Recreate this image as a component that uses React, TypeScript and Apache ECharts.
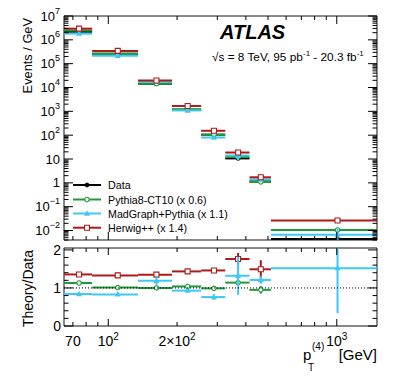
import React, { useEffect, useRef } from "react";
import * as echarts from "echarts";

const FONT = '"Liberation Sans", Arial, Helvetica, sans-serif';

const X_MIN = 64;
const X_MAX = 1500;
const Y_MIN = 0.004;
const Y_MAX = 1e7;
const R_MIN = 0;
const R_MAX = 2.05;

// bins of the 4th-jet pT (GeV)
const binLow = [64, 85, 135, 190, 255, 325, 415, 515];
const binHigh = [85, 135, 190, 255, 325, 415, 515, 1500];
const binCenter = [74.5, 110, 162.5, 222.5, 290, 370, 465, 1007.5];

// Events / GeV
const dataValues = [2.17e6, 2.58e5, 1.45e4, 1.17e3, 105, 10.6, 1.15, 0.0044];
const pythiaValues = [2.45e6, 2.61e5, 1.45e4, 1.22e3, 104, 12.1, 1.09, 0.0106];
const madgraphValues = [1.82e6, 2.14e5, 1.73e4, 1.09e3, 79.8, 14.0, 1.39, 0.0067];
const herwigValues = [2.94e6, 3.43e5, 1.96e4, 1.68e3, 153, 18.7, 1.71, 0.0264];

// Theory / Data
const pythiaRatio = [1.13, 1.01, 1.0, 1.04, 0.99, 1.14, 0.95, 2.4];
const madgraphRatio = [0.84, 0.83, 1.19, 0.93, 0.76, 1.32, 1.21, 1.52];
const herwigRatio = [1.355, 1.33, 1.35, 1.435, 1.46, 1.76, 1.49, 6.0];
const pythiaRatioErr = [0.01, 0.01, 0.01, 0.02, 0.02, 0.03, 0.1, 0.2];
const madgraphRatioErr = [0.02, 0.02, 0.11, 0.03, 0.07, 0.5, 0.1, 1.18];
const herwigRatioErr = [0.01, 0.01, 0.02, 0.02, 0.03, 0.16, 0.24, 0.5];

// axis ticks and labels
const xMajorTicks = [100, 1000];
const xMinorTicks = [70, 80, 90, 200, 300, 400, 500, 600, 700, 800, 900];
const xLabelValues = [70, 100, 200, 1000];
const yDecades = [1e-3, 1e-2, 1e-1, 1, 10, 1e2, 1e3, 1e4, 1e5, 1e6, 1e7];
const yMinorMultipliers = [2, 3, 4, 5, 6, 7, 8, 9];
const rMajorTicks = [0, 1, 2];
const rMinorTicks = [0.2, 0.4, 0.6, 0.8, 1.2, 1.4, 1.6, 1.8];

const legendNames = ["Data", "Pythia8-CT10 (x 0.6)", "MadGraph+Pythia (x 1.1)", "Herwig++ (x 1.4)"];

const BLACK = "#000000";
const GREEN = "#1f9a3a";
const BLUE = "#3ec8f4";
const RED = "#ad1a1a";

type MarkerKind = "dot" | "ocircle" | "tri" | "osq";

function markerEl(kind: MarkerKind, color: string, cx: number, cy: number): any {
  switch (kind) {
    case "dot":
      return { type: "circle", shape: { cx, cy, r: 2.4 }, style: { fill: color } };
    case "ocircle":
      return { type: "circle", shape: { cx, cy, r: 2.2 }, style: { fill: "#fff", stroke: color, lineWidth: 1.1 } };
    case "tri":
      return {
        type: "polygon",
        shape: { points: [[cx, cy - 3.3], [cx - 3, cy + 2.2], [cx + 3, cy + 2.2]] },
        style: { fill: color },
      };
    case "osq":
    default:
      return {
        type: "rect",
        shape: { x: cx - 2.5, y: cy - 2.5, width: 5, height: 5 },
        style: { fill: "#fff", stroke: color, lineWidth: 1.1 },
      };
  }
}

function histRender(color: string, kind: MarkerKind) {
  return (params: any, api: any) => {
    const xc = api.value(0);
    const y = api.value(1);
    const lo = api.value(2);
    const hi = api.value(3);
    const eLo = api.value(4);
    const eHi = api.value(5);
    const pL = api.coord([lo, y]);
    const pR = api.coord([hi, y]);
    const pC = api.coord([xc, y]);
    const up = api.coord([xc, eHi]);
    const dn = api.coord([xc, eLo]);
    const children: any[] = [
      { type: "line", shape: { x1: pL[0], y1: pL[1], x2: pR[0], y2: pR[1] }, style: { stroke: color, lineWidth: 2 } },
    ];
    if (Math.abs(up[1] - dn[1]) > 0.5) {
      children.push({ type: "line", shape: { x1: pC[0], y1: up[1], x2: pC[0], y2: dn[1] }, style: { stroke: color, lineWidth: 2 } });
    }
    children.push(markerEl(kind, color, pC[0], pC[1]));
    return { type: "group", children };
  };
}

function xTickRender(majorLen: number, minorLen: number) {
  return (params: any, api: any) => {
    const cs = params.coordSys;
    const x = api.coord([api.value(0), api.value(1)])[0];
    const len = api.value(2) ? majorLen : minorLen;
    const top = cs.y;
    const bot = cs.y + cs.height;
    return {
      type: "group",
      children: [
        { type: "line", shape: { x1: x, y1: bot, x2: x, y2: bot - len }, style: { stroke: "#000", lineWidth: 1 } },
        { type: "line", shape: { x1: x, y1: top, x2: x, y2: top + len }, style: { stroke: "#000", lineWidth: 1 } },
      ],
    };
  };
}

function yTickRender(majorLen: number, minorLen: number) {
  return (params: any, api: any) => {
    const cs = params.coordSys;
    const y = api.coord([api.value(0), api.value(1)])[1];
    const len = api.value(2) ? majorLen : minorLen;
    const left = cs.x;
    const right = cs.x + cs.width;
    return {
      type: "group",
      children: [
        { type: "line", shape: { x1: left, y1: y, x2: left + len, y2: y }, style: { stroke: "#000", lineWidth: 1 } },
        { type: "line", shape: { x1: right, y1: y, x2: right - len, y2: y }, style: { stroke: "#000", lineWidth: 1 } },
      ],
    };
  };
}

function topData(values: number[], ratio: number[] | null, ratioErr: number[] | null) {
  return values.map((v, i) => {
    const rel = ratio && ratioErr ? ratioErr[i] / ratio[i] : 0;
    return [binCenter[i], v, binLow[i], binHigh[i], Math.max(v * (1 - rel), 1e-9), v * (1 + rel)];
  });
}

function ratioData(ratio: number[], err: number[]) {
  return ratio.map((r, i) => [binCenter[i], r, binLow[i], binHigh[i], r - err[i], r + err[i]]);
}

function buildOption(): any {
  const xTickData = [
    ...xMajorTicks.map((v) => [v, 1, 1]),
    ...xMinorTicks.map((v) => [v, 1, 0]),
  ];
  const yTopTickData: number[][] = [];
  yDecades.forEach((d) => {
    if (d >= Y_MIN && d <= Y_MAX) yTopTickData.push([100, d, 1]);
    yMinorMultipliers.forEach((m) => {
      const v = m * d;
      if (v >= Y_MIN && v <= Y_MAX) yTopTickData.push([100, v, 0]);
    });
  });
  const rTickData = [
    ...rMajorTicks.map((v) => [100, v, 1]),
    ...rMinorTicks.map((v) => [100, v, 0]),
  ];

  const supRich = {
    b: { fontSize: 13, fontFamily: FONT, color: "#000", lineHeight: 20 },
    s: { fontSize: 9, fontFamily: FONT, color: "#000", lineHeight: 10, verticalAlign: "top" },
  };
  const xRich = {
    b: { fontSize: 14, fontFamily: FONT, color: "#000", lineHeight: 20 },
    s: { fontSize: 10, fontFamily: FONT, color: "#000", lineHeight: 10, verticalAlign: "top" },
  };

  const legendY = [185, 199.5, 213.5, 227.7];
  const legendColors = [BLACK, GREEN, BLUE, RED];
  const legendMarkers: MarkerKind[] = ["dot", "ocircle", "tri", "osq"];
  const legendEls: any[] = [];
  legendNames.forEach((name, i) => {
    legendEls.push({
      type: "line",
      shape: { x1: 73, y1: legendY[i], x2: 101, y2: legendY[i] },
      style: { stroke: legendColors[i], lineWidth: 2 },
    });
    legendEls.push(markerEl(legendMarkers[i], legendColors[i], 87, legendY[i]));
    legendEls.push({
      type: "text",
      x: 108,
      y: legendY[i],
      style: { text: name, fontSize: 10.7, fontFamily: FONT, fill: "#000", align: "left", verticalAlign: "middle" },
    });
  });

  const common = { type: "custom", silent: true, clip: true };

  return {
    animation: false,
    backgroundColor: "#fff",
    grid: [
      { left: 64, right: 22, top: 16, height: 224, show: true, borderColor: "#111", borderWidth: 1, backgroundColor: "transparent" },
      { left: 64, right: 22, top: 248, height: 78, show: true, borderColor: "#111", borderWidth: 1, backgroundColor: "transparent" },
    ],
    xAxis: [
      {
        gridIndex: 0, type: "log", min: X_MIN, max: X_MAX,
        axisLine: { show: false }, axisTick: { show: false }, axisLabel: { show: false }, splitLine: { show: false },
      },
      {
        gridIndex: 1, type: "log", min: X_MIN, max: X_MAX,
        axisLine: { show: false }, axisTick: { show: false }, splitLine: { show: false },
        axisLabel: {
          customValues: xLabelValues,
          margin: 5,
          formatter: (v: number) => {
            const r = Math.round(v);
            if (r === 70) return "{b|70}";
            if (r === 100) return "{b|10}{s|2}";
            if (r === 200) return "{b|2×10}{s|2}";
            if (r === 1000) return "{b|10}{s|3}";
            return "";
          },
          rich: xRich,
        },
      },
    ],
    yAxis: [
      {
        gridIndex: 0, type: "log", min: Y_MIN, max: Y_MAX, splitNumber: 10,
        axisLine: { show: false }, axisTick: { show: false }, splitLine: { show: false },
        axisLabel: {
          interval: 0,
          showMinLabel: false,
          margin: 4,
          formatter: (v: number) => {
            const l = Math.log10(v);
            const e = Math.round(l);
            if (Math.abs(l - e) > 0.01) return "";
            if (e === 0) return "{b|1}";
            if (e === 1) return "{b|10}";
            return "{b|10}{s|" + (e < 0 ? "\u2212" + -e : String(e)) + "}";
          },
          rich: supRich,
        },
      },
      {
        gridIndex: 1, type: "value", min: R_MIN, max: R_MAX, interval: 1,
        axisLine: { show: false }, axisTick: { show: false }, splitLine: { show: false },
        axisLabel: {
          margin: 3,
          fontSize: 14,
          fontFamily: FONT,
          color: "#000",
          formatter: (v: number) => (Math.abs(v - Math.round(v)) < 1e-6 ? String(Math.round(v)) : ""),
        },
      },
    ],
    series: [
      // top panel
      { ...common, xAxisIndex: 0, yAxisIndex: 0, renderItem: histRender(BLACK, "dot"), data: topData(dataValues, null, null) },
      { ...common, xAxisIndex: 0, yAxisIndex: 0, renderItem: histRender(GREEN, "ocircle"), data: topData(pythiaValues, pythiaRatio, pythiaRatioErr) },
      { ...common, xAxisIndex: 0, yAxisIndex: 0, renderItem: histRender(BLUE, "tri"), data: topData(madgraphValues, madgraphRatio, madgraphRatioErr) },
      { ...common, xAxisIndex: 0, yAxisIndex: 0, renderItem: histRender(RED, "osq"), data: topData(herwigValues, herwigRatio, herwigRatioErr) },
      // ratio panel reference line
      {
        type: "line", xAxisIndex: 1, yAxisIndex: 1, silent: true, symbol: "none",
        data: [[X_MIN, 1], [X_MAX, 1]],
        lineStyle: { color: "#000", width: 1, type: [1, 2] },
      },
      { ...common, xAxisIndex: 1, yAxisIndex: 1, renderItem: histRender(RED, "osq"), data: ratioData(herwigRatio, herwigRatioErr) },
      { ...common, xAxisIndex: 1, yAxisIndex: 1, renderItem: histRender(GREEN, "ocircle"), data: ratioData(pythiaRatio, pythiaRatioErr) },
      { ...common, xAxisIndex: 1, yAxisIndex: 1, renderItem: histRender(BLUE, "tri"), data: ratioData(madgraphRatio, madgraphRatioErr) },
      // ticks
      { type: "custom", silent: true, clip: false, xAxisIndex: 0, yAxisIndex: 0, renderItem: xTickRender(8, 4), data: xTickData },
      { type: "custom", silent: true, clip: false, xAxisIndex: 0, yAxisIndex: 0, renderItem: yTickRender(9, 4.5), data: yTopTickData },
      { type: "custom", silent: true, clip: false, xAxisIndex: 1, yAxisIndex: 1, renderItem: xTickRender(7, 4), data: xTickData },
      { type: "custom", silent: true, clip: false, xAxisIndex: 1, yAxisIndex: 1, renderItem: yTickRender(9, 4.5), data: rTickData },
    ],
    graphic: [
      ...legendEls,
      {
        type: "text", x: 220, y: 31.5,
        style: { text: "ATLAS", fontSize: 20, fontWeight: "bold", fontStyle: "italic", fontFamily: FONT, fill: "#000", align: "left", verticalAlign: "middle" },
      },
      {
        type: "text", x: 212, y: 57,
        style: {
          text: "{b|\u221As = 8 TeV, 95 pb}{s|-1}{b| - 20.3 fb}{s|-1}",
          align: "left", verticalAlign: "middle",
          rich: {
            b: { fontSize: 11.8, fontFamily: FONT, fill: "#000", lineHeight: 16 },
            s: { fontSize: 8, fontFamily: FONT, fill: "#000", lineHeight: 8, verticalAlign: "top" },
          },
        },
      },
      {
        type: "text", x: 27, y: 18, rotation: Math.PI / 2,
        style: { text: "Events / GeV", fontSize: 12.8, fontFamily: FONT, fill: "#000", align: "right", verticalAlign: "middle" },
      },
      {
        type: "text", x: 28, y: 250, rotation: Math.PI / 2,
        style: { text: "Theory/Data", fontSize: 14, fontFamily: FONT, fill: "#000", align: "right", verticalAlign: "middle" },
      },
      { type: "text", x: 303, y: 354, style: { text: "p", fontSize: 15, fontFamily: FONT, fill: "#000", align: "left", verticalAlign: "middle" } },
      { type: "text", x: 312, y: 346, style: { text: "(4)", fontSize: 10, fontFamily: FONT, fill: "#000", align: "left", verticalAlign: "middle" } },
      { type: "text", x: 308, y: 367, style: { text: "T", fontSize: 10, fontFamily: FONT, fill: "#000", align: "left", verticalAlign: "middle" } },
      { type: "text", x: 377, y: 354, style: { text: "[GeV]", fontSize: 15, fontFamily: FONT, fill: "#000", align: "right", verticalAlign: "middle" } },
    ],
  };
}

export default function App() {
  const ref = useRef<HTMLDivElement>(null);
  useEffect(() => {
    if (!ref.current) return;
    const chart = echarts.init(ref.current, null, { renderer: "svg" });
    chart.setOption(buildOption());
    return () => chart.dispose();
  }, []);
  return <div ref={ref} style={{ position: "absolute", left: 0, top: 0, width: 399, height: 385 }} />;
}
